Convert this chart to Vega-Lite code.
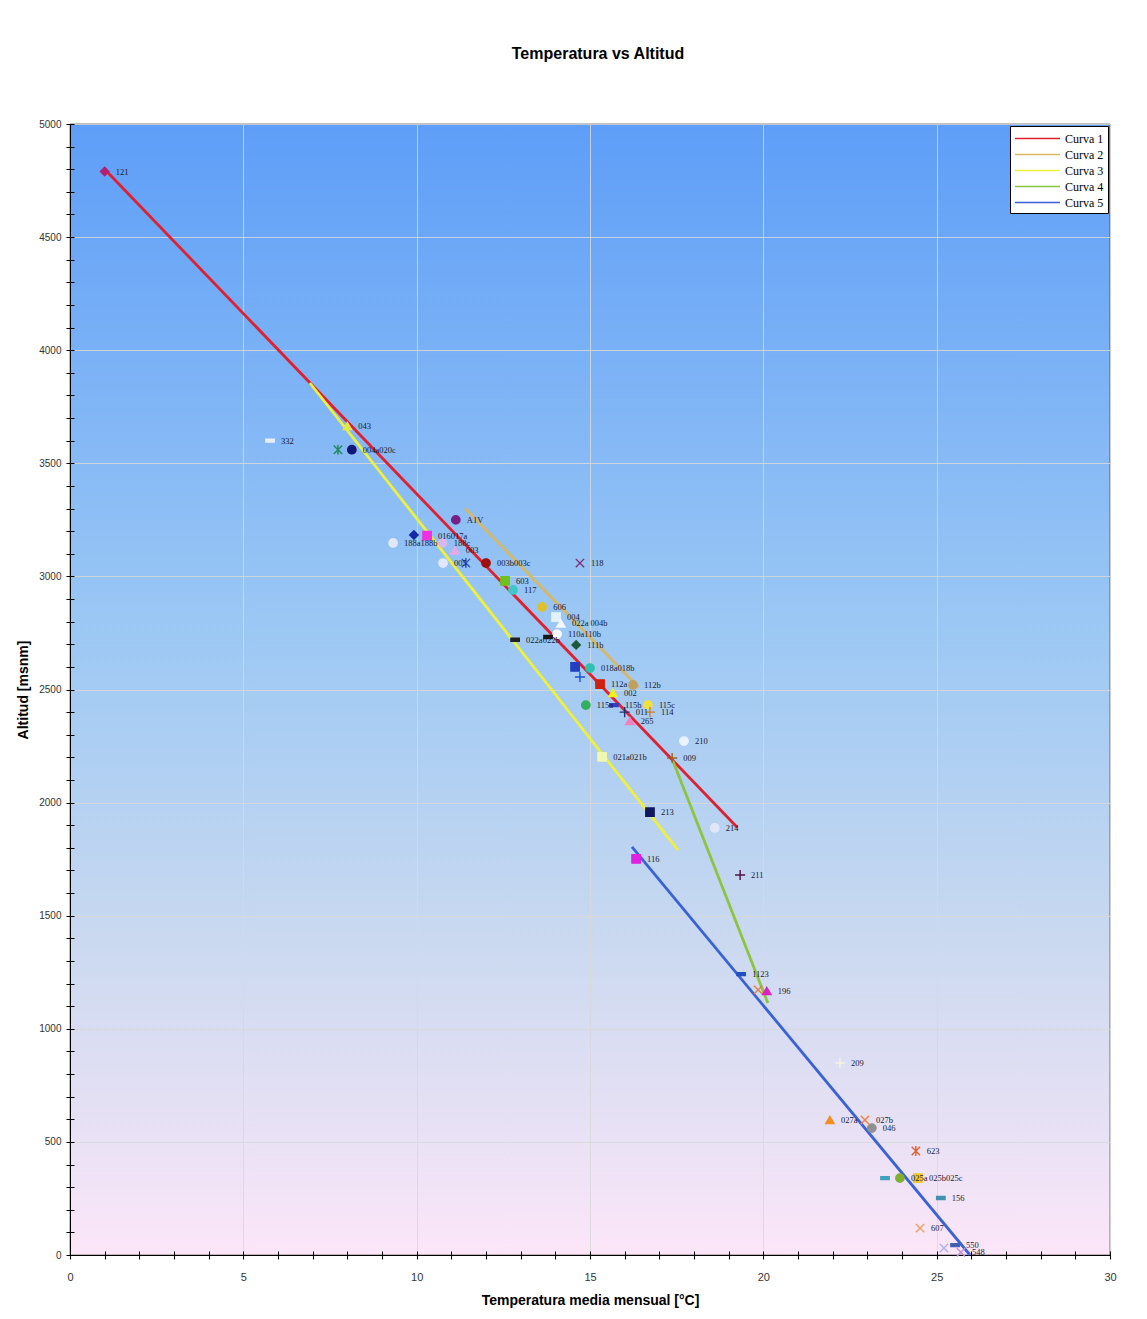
{
  "$schema": "https://vega.github.io/schema/vega-lite/v6.json",
  "width": 1040,
  "height": 1131,
  "autosize": {"type": "none"},
  "padding": {"left": 70, "top": 124, "right": 37, "bottom": 64},
  "background": "white",
  "title": {"text": "Temperatura vs Altitud", "font": "Liberation Sans", "fontSize": 16, "fontWeight": "bold", "color": "#000000", "offset": 57, "dx": 8},
  "config": {
    "view": {
      "stroke": "#000000",
      "strokeWidth": 0.6,
      "fill": {"gradient": "linear", "x1": 0, "y1": 0, "x2": 0, "y2": 1,
        "stops": [
          {"offset": 0, "color": "#5e9ef8"},
          {"offset": 0.45, "color": "#9cc8f4"},
          {"offset": 0.72, "color": "#cad9f0"},
          {"offset": 1, "color": "#fce6f8"}
        ]}
    },
    "axis": {"labelFont": "Liberation Sans", "titleFont": "Liberation Sans", "labelColor": "#333333", "titleColor": "#000000"},
    "legend": {
      "orient": "top-right", "offset": 2, "fillColor": "#ffffff", "strokeColor": "#000000", "padding": 4,
      "labelFont": "Liberation Serif", "labelFontSize": 12, "labelColor": "#000000", "labelOffset": 34,
      "symbolType": "M-1,0L5,0", "symbolSize": 225, "symbolStrokeWidth": 1.5, "rowPadding": 1
    }
  },
  "datasets": {
    "curvas": [
      {"curva": "Curva 1", "t": 1.0, "alt": 4800},
      {"curva": "Curva 1", "t": 19.25, "alt": 1890},
      {"curva": "Curva 2", "t": 11.4, "alt": 3300},
      {"curva": "Curva 2", "t": 16.4, "alt": 2510},
      {"curva": "Curva 3", "t": 6.92, "alt": 3855},
      {"curva": "Curva 3", "t": 17.54, "alt": 1790},
      {"curva": "Curva 4", "t": 17.39, "alt": 2185},
      {"curva": "Curva 4", "t": 20.13, "alt": 1114},
      {"curva": "Curva 5", "t": 16.21, "alt": 1804},
      {"curva": "Curva 5", "t": 25.96, "alt": 0}
    ],
    "puntos": [
      {"id": "p121", "t": 1.0, "alt": 4790, "etiqueta": "121"},
      {"id": "p332", "t": 5.77, "alt": 3600, "etiqueta": "332"},
      {"id": "p043", "t": 8.0, "alt": 3665, "etiqueta": "043"},
      {"id": "p002s", "t": 7.73, "alt": 3560, "etiqueta": ""},
      {"id": "p004a", "t": 8.13, "alt": 3560, "etiqueta": "004a020c"},
      {"id": "pA1V", "t": 11.13, "alt": 3250, "etiqueta": "A1V"},
      {"id": "pdia", "t": 9.92, "alt": 3183, "etiqueta": ""},
      {"id": "p016", "t": 10.3, "alt": 3180, "etiqueta": "016017a"},
      {"id": "p188a", "t": 9.32, "alt": 3148, "etiqueta": "188a188b"},
      {"id": "p188c", "t": 10.75, "alt": 3148, "etiqueta": "188c"},
      {"id": "p003", "t": 11.1, "alt": 3115, "etiqueta": "003"},
      {"id": "p005", "t": 10.76, "alt": 3059, "etiqueta": "005"},
      {"id": "p005s", "t": 11.42, "alt": 3059, "etiqueta": ""},
      {"id": "p003b", "t": 12.0, "alt": 3059, "etiqueta": "003b003c"},
      {"id": "p118", "t": 14.71, "alt": 3059, "etiqueta": "118"},
      {"id": "p603", "t": 12.55, "alt": 2980, "etiqueta": "603"},
      {"id": "p117", "t": 12.78, "alt": 2940, "etiqueta": "117"},
      {"id": "p606", "t": 13.62, "alt": 2865, "etiqueta": "606"},
      {"id": "p004", "t": 14.02, "alt": 2820, "etiqueta": "004"},
      {"id": "p004b", "t": 14.16, "alt": 2792, "etiqueta": "022a 004b"},
      {"id": "p110a", "t": 14.05, "alt": 2745, "etiqueta": "110a110b"},
      {"id": "p022", "t": 12.84, "alt": 2720, "etiqueta": "022a022b"},
      {"id": "p022d", "t": 13.79, "alt": 2732, "etiqueta": ""},
      {"id": "p111b", "t": 14.6, "alt": 2697, "etiqueta": "111b"},
      {"id": "p018a", "t": 15.0, "alt": 2595, "etiqueta": "018a018b"},
      {"id": "pu", "t": 14.57, "alt": 2600, "etiqueta": ""},
      {"id": "pplus", "t": 14.71, "alt": 2555, "etiqueta": ""},
      {"id": "p112a", "t": 15.29, "alt": 2524, "etiqueta": "112a"},
      {"id": "p112b", "t": 16.24, "alt": 2520, "etiqueta": "112b"},
      {"id": "p002", "t": 15.66, "alt": 2485, "etiqueta": "002"},
      {"id": "p115a", "t": 14.88, "alt": 2431, "etiqueta": "115a"},
      {"id": "p115b", "t": 15.69, "alt": 2431, "etiqueta": "115b"},
      {"id": "p115c", "t": 16.67, "alt": 2432, "etiqueta": "115c"},
      {"id": "p114", "t": 16.73, "alt": 2400, "etiqueta": "114"},
      {"id": "p011", "t": 16.0, "alt": 2400, "etiqueta": "011"},
      {"id": "p265", "t": 16.15, "alt": 2361, "etiqueta": "265"},
      {"id": "p210", "t": 17.71, "alt": 2272, "etiqueta": "210"},
      {"id": "p021a", "t": 15.35, "alt": 2202, "etiqueta": "021a021b"},
      {"id": "p009", "t": 17.37, "alt": 2197, "etiqueta": "009"},
      {"id": "p213", "t": 16.73, "alt": 1958, "etiqueta": "213"},
      {"id": "p214", "t": 18.6, "alt": 1888, "etiqueta": "214"},
      {"id": "p116", "t": 16.33, "alt": 1751, "etiqueta": "116"},
      {"id": "p211", "t": 19.33, "alt": 1680, "etiqueta": "211"},
      {"id": "p1123", "t": 19.36, "alt": 1242, "etiqueta": "1123"},
      {"id": "pXo", "t": 19.85, "alt": 1172, "etiqueta": ""},
      {"id": "p196", "t": 20.1, "alt": 1167, "etiqueta": "196"},
      {"id": "p209", "t": 22.21, "alt": 849, "etiqueta": "209"},
      {"id": "p027a", "t": 21.92, "alt": 597, "etiqueta": "027a"},
      {"id": "p027b", "t": 22.93, "alt": 597, "etiqueta": "027b"},
      {"id": "p046", "t": 23.13, "alt": 561, "etiqueta": "046"},
      {"id": "p623", "t": 24.4, "alt": 460, "etiqueta": "623"},
      {"id": "p025d", "t": 23.51, "alt": 340, "etiqueta": ""},
      {"id": "p025a", "t": 23.94, "alt": 340, "etiqueta": "025a"},
      {"id": "p025b", "t": 24.46, "alt": 340, "etiqueta": "025b025c"},
      {"id": "p156", "t": 25.12, "alt": 252, "etiqueta": "156"},
      {"id": "p607", "t": 24.52, "alt": 119, "etiqueta": "607"},
      {"id": "p550", "t": 25.53, "alt": 44, "etiqueta": "550"},
      {"id": "pXl", "t": 25.21, "alt": 31, "etiqueta": ""},
      {"id": "p548", "t": 25.7, "alt": 12, "etiqueta": "548"}
    ]
  },
  "layer": [
    {
      "data": {"name": "curvas"},
      "mark": {"type": "line", "strokeWidth": 2.8},
      "encoding": {
        "x": {"field": "t", "type": "quantitative", "scale": {"domain": [0, 30], "nice": false, "zero": false},
          "axis": {"orient": "bottom", "values": [0, 5, 10, 15, 20, 25, 30], "format": "d", "ticks": false, "tickSize": 0, "labelPadding": 16, "labelFontSize": 11, "labelFlush": false,
            "grid": true, "gridColor": "#d8d8d8", "gridOpacity": 0.85, "domain": true, "domainColor": "#000000",
            "title": "Temperatura media mensual [°C]", "titleFontSize": 14, "titleFontWeight": "bold", "titlePadding": 11}},
        "y": {"field": "alt", "type": "quantitative", "scale": {"domain": [0, 5000], "nice": false, "zero": false},
          "axis": {"orient": "left", "values": [0, 500, 1000, 1500, 2000, 2500, 3000, 3500, 4000, 4500, 5000], "format": "d", "ticks": false, "tickSize": 0, "labelPadding": 9, "labelFontSize": 10, "labelFlush": false,
            "grid": true, "gridColor": "#d8d8d8", "gridOpacity": 0.85, "domain": true, "domainColor": "#000000",
            "title": "Altitud [msnm]", "titleFontSize": 14, "titleFontWeight": "bold", "titlePadding": 8}},
        "color": {"field": "curva", "type": "nominal",
          "scale": {"domain": ["Curva 1", "Curva 2", "Curva 3", "Curva 4", "Curva 5"], "range": ["#e0202e", "#d6b866", "#eef03a", "#8cc43e", "#3a62d8"]},
          "legend": {"title": null}},
        "detail": {"field": "curva"}
      }
    },
    {
      "data": {"name": "puntos"},
      "mark": {"type": "point", "filled": true, "size": 70, "strokeWidth": 1.4, "opacity": 1},
      "encoding": {
        "x": {"field": "t", "type": "quantitative",
          "axis": {"orient": "bottom", "offset": -4, "values": [0,1,2,3,4,5,6,7,8,9,10,11,12,13,14,15,16,17,18,19,20,21,22,23,24,25,26,27,28,29,30], "labels": false, "domain": false, "grid": false, "title": null, "tickSize": 8, "tickColor": "#000000"}},
        "y": {"field": "alt", "type": "quantitative",
          "axis": {"orient": "left", "offset": -4, "values": [0,100,200,300,400,500,600,700,800,900,1000,1100,1200,1300,1400,1500,1600,1700,1800,1900,2000,2100,2200,2300,2400,2500,2600,2700,2800,2900,3000,3100,3200,3300,3400,3500,3600,3700,3800,3900,4000,4100,4200,4300,4400,4500,4600,4700,4800,4900,5000], "labels": false, "domain": false, "grid": false, "title": null, "tickSize": 8, "tickColor": "#000000"}},
        "fill": {"field": "id", "type": "nominal", "legend": null,
          "scale": {
            "domain": ["p121","p332","p043","p002s","p004a","pA1V","pdia","p016","p188a","p188c","p003","p005","p005s","p003b","p118","p603","p117","p606","p004","p004b","p110a","p022","p022d","p111b","p018a","pu","pplus","p112a","p112b","p002","p115a","p115b","p115c","p114","p011","p265","p210","p021a","p009","p213","p214","p116","p211","p1123","pXo","p196","p209","p027a","p027b","p046","p623","p025d","p025a","p025b","p156","p607","p550","pXl","p548"],
            "range": ["#b02070","#e8eef8","#e0e850","#1a8a5a","#101878","#782088","#1428a8","#f030e0","#dfe8f4","#d8b8ec","#e8a8e8","#e0e8ff","#3050c8","#a01010","#803070","#70c020","#40c8c8","#e0c030","#e4f2ff","#f4f8ff","#f8f8ff","#202020","#181818","#1a5a3a","#30c0b0","#2040c0","#2050d0","#d02010","#c0a060","#f0f020","#30b060","#3040c0","#f0e040","#d08020","#203070","#f080c0","#e8f4ff","#f0f8b0","#a06020","#101860","#e0e8f8","#e020e0","#501040","#2050c0","#e08040","#e020c0","#f4f4e0","#f09020","#f08040","#909090","#e06030","#40a0c0","#80b030","#f0c830","#4090b0","#f0a060","#4060b0","#b0b0f0","#c090d0"]}},
        "stroke": {"field": "id", "type": "nominal", "legend": null,
          "scale": {
            "domain": ["p121","p332","p043","p002s","p004a","pA1V","pdia","p016","p188a","p188c","p003","p005","p005s","p003b","p118","p603","p117","p606","p004","p004b","p110a","p022","p022d","p111b","p018a","pu","pplus","p112a","p112b","p002","p115a","p115b","p115c","p114","p011","p265","p210","p021a","p009","p213","p214","p116","p211","p1123","pXo","p196","p209","p027a","p027b","p046","p623","p025d","p025a","p025b","p156","p607","p550","pXl","p548"],
            "range": ["#b02070","#e8eef8","#e0e850","#1a8a5a","#101878","#782088","#1428a8","#f030e0","#dfe8f4","#d8b8ec","#e8a8e8","#e0e8ff","#3050c8","#a01010","#803070","#70c020","#40c8c8","#e0c030","#e4f2ff","#f4f8ff","#f8f8ff","#202020","#181818","#1a5a3a","#30c0b0","#2040c0","#2050d0","#d02010","#c0a060","#f0f020","#30b060","#3040c0","#f0e040","#d08020","#203070","#f080c0","#e8f4ff","#f0f8b0","#a06020","#101860","#e0e8f8","#e020e0","#501040","#2050c0","#e08040","#e020c0","#f4f4e0","#f09020","#f08040","#909090","#e06030","#40a0c0","#80b030","#f0c830","#4090b0","#f0a060","#4060b0","#b0b0f0","#c090d0"]}},
        "shape": {"field": "id", "type": "nominal", "legend": null,
          "scale": {
            "domain": ["p121","p332","p043","p002s","p004a","pA1V","pdia","p016","p188a","p188c","p003","p005","p005s","p003b","p118","p603","p117","p606","p004","p004b","p110a","p022","p022d","p111b","p018a","pu","pplus","p112a","p112b","p002","p115a","p115b","p115c","p114","p011","p265","p210","p021a","p009","p213","p214","p116","p211","p1123","pXo","p196","p209","p027a","p027b","p046","p623","p025d","p025a","p025b","p156","p607","p550","pXl","p548"],
            "range": ["diamond","M-1,-0.35L1,-0.35L1,0.35L-1,0.35Z","triangle-up","M-1,-1L1,1M-1,1L1,-1M0,-1.2L0,1.2","circle","circle","diamond","square","circle","circle","triangle-up","circle","M-1,-1L1,1M-1,1L1,-1M0,-1.2L0,1.2","circle","M-1,-1L1,1M-1,1L1,-1","square","circle","circle","square","triangle-up","circle","M-1,-0.35L1,-0.35L1,0.35L-1,0.35Z","M-1,-0.35L1,-0.35L1,0.35L-1,0.35Z","diamond","circle","square","M-1.2,0L1.2,0M0,-1.2L0,1.2","square","circle","triangle-up","circle","M-1,-0.35L1,-0.35L1,0.35L-1,0.35Z","circle","M-1.2,0L1.2,0M0,-1.2L0,1.2","M-1.2,0L1.2,0M0,-1.2L0,1.2","triangle-up","circle","square","M-1.2,0L1.2,0M0,-1.2L0,1.2","square","circle","square","M-1.2,0L1.2,0M0,-1.2L0,1.2","M-1,-0.35L1,-0.35L1,0.35L-1,0.35Z","M-1,-1L1,1M-1,1L1,-1","triangle-up","M-1.2,0L1.2,0M0,-1.2L0,1.2","triangle-up","M-1,-1L1,1M-1,1L1,-1","circle","M-1,-1L1,1M-1,1L1,-1M0,-1.2L0,1.2","M-1,-0.35L1,-0.35L1,0.35L-1,0.35Z","circle","square","M-1,-0.35L1,-0.35L1,0.35L-1,0.35Z","M-1,-1L1,1M-1,1L1,-1","M-1,-0.35L1,-0.35L1,0.35L-1,0.35Z","M-1,-1L1,1M-1,1L1,-1","M-1,-1L1,1M-1,1L1,-1"]}}
      }
    },
    {
      "data": {"name": "puntos"},
      "mark": {"type": "text", "align": "left", "baseline": "middle", "dx": 11, "font": "Liberation Serif", "fontSize": 8.5, "color": "#1a1a30"},
      "encoding": {
        "x": {"field": "t", "type": "quantitative", "axis": null},
        "y": {"field": "alt", "type": "quantitative", "axis": null},
        "text": {"field": "etiqueta"}
      }
    }
  ],
  "resolve": {"axis": {"x": "independent", "y": "independent"}}
}
